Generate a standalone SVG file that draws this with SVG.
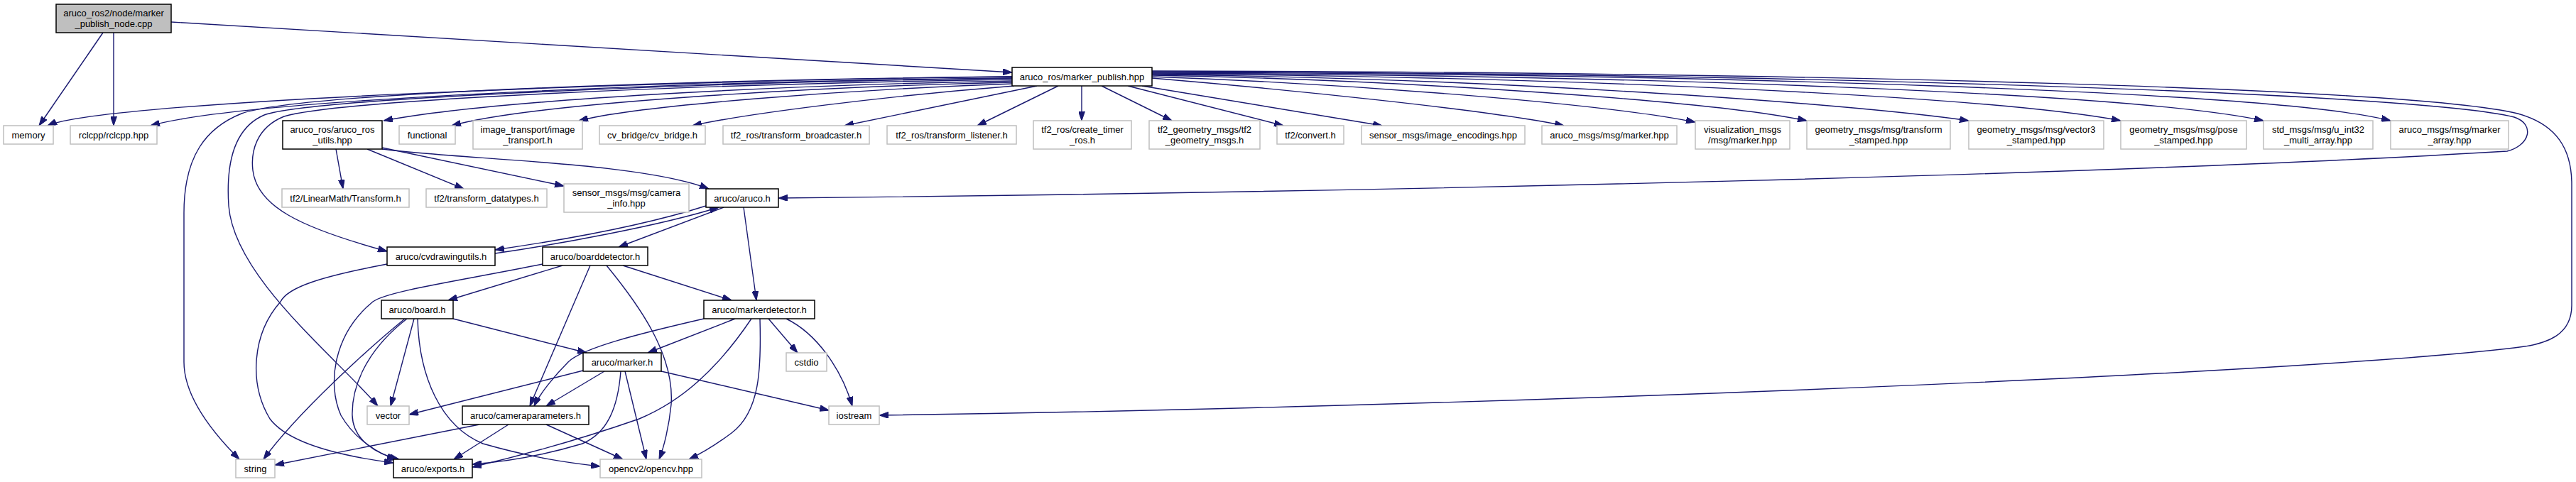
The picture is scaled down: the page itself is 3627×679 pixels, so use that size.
<svg xmlns="http://www.w3.org/2000/svg" width="3627" height="679" viewBox="0 0 3627 679">
<defs>
<style>
.bg{fill:#ffffff}
.node rect{fill:#ffffff;stroke-width:1.5}
.doc rect{stroke:#000000}
.ext rect{stroke:#bfbfbf}
.main rect{fill:#bfbfbf;stroke:#000000}
.node text{font-family:"Liberation Sans",Arial,sans-serif;font-size:13px;fill:#000000;text-anchor:middle}
#edges path{fill:none;stroke:#191970;stroke-width:1.4;marker-end:url(#ah)}
</style>
<marker id="ah" viewBox="0 0 13 9" refX="13" refY="4.5" markerWidth="13" markerHeight="9" orient="auto" markerUnits="userSpaceOnUse"><path d="M0,0L13,4.5L0,9z" fill="#191970" stroke="#191970" stroke-width="1"/></marker>
</defs>
<rect class="bg" x="0" y="0" width="3627" height="679"/>
<g id="edges">
<path d="M145,46 L55,177"/>
<path d="M160,46 L160,177"/>
<path d="M241,31 L1425,102"/>
<path d="M1425,108 C1000,112 150,140 67,177"/>
<path d="M1425,110 C1000,114 350,138 212,177"/>
<path d="M1425,114 C1100,120 700,140 540,170"/>
<path d="M1425,116 C1150,122 750,145 636,177"/>
<path d="M1425,118 C1200,126 900,148 815,170"/>
<path d="M1428,121 C1250,135 1050,160 975,177"/>
<path d="M1460,121 L1189,177"/>
<path d="M1490,121 L1376,177"/>
<path d="M1523,121 L1523,170"/>
<path d="M1551,121 L1650,170"/>
<path d="M1588,121 L1807,177"/>
<path d="M1608,121 L1946,177"/>
<path d="M1622,110 C1800,125 2100,155 2202,177"/>
<path d="M1622,108 C1900,118 2250,145 2387,172"/>
<path d="M1622,106 C1950,112 2400,140 2544,170"/>
<path d="M1622,105 C2100,110 2600,145 2772,170"/>
<path d="M1622,104 C2200,108 2800,135 2986,170"/>
<path d="M1622,103 C2300,106 3000,130 3187,170"/>
<path d="M1622,102 C2400,104 3200,128 3366,170"/>
<path d="M1622,101 C2500,103 3400,130 3540,165 C3570,175 3562,205 3530,213 C3000,245 2000,270 1096,279"/>
<path d="M1622,100 C2600,102 3400,125 3545,160 C3600,175 3621,210 3621,260 L3621,430 C3621,470 3590,485 3540,490 C3200,530 2000,575 1238,585"/>
<path d="M1425,108 C1000,112 420,130 340,160 C290,180 259,220 259,300 L259,510 C259,560 300,610 337,647"/>
<path d="M1425,110 C1000,116 440,138 372,162 C330,180 318,230 322,290 C330,390 470,500 532,572"/>
<path d="M1425,112 C1000,118 480,140 400,164 C360,180 353,215 356,240 C362,290 420,320 545,354"/>
<path d="M473,210 L483,266"/>
<path d="M517,210 L653,266"/>
<path d="M538,208 L794,262"/>
<path d="M538,210 C650,225 900,228 998,266"/>
<path d="M994,290 C900,320 780,340 697,352"/>
<path d="M697,357 C780,345 930,318 1012,292"/>
<path d="M1019,292 L871,348"/>
<path d="M1047,292 L1065,423"/>
<path d="M545,372 C450,390 405,405 395,425 C355,470 350,540 380,590 C410,630 500,645 554,652"/>
<path d="M764,372 C650,395 545,410 525,425 C470,470 460,540 480,585 C500,620 535,640 558,647"/>
<path d="M792,374 L631,423"/>
<path d="M831,374 L746,572"/>
<path d="M854,374 C900,430 950,500 945,570 C942,600 935,630 928,647"/>
<path d="M877,374 L1030,423"/>
<path d="M570,449 C520,490 420,580 371,647"/>
<path d="M573,449 C520,490 495,540 496,585 C497,620 530,640 562,647"/>
<path d="M583,449 L550,572"/>
<path d="M588,449 C590,530 620,600 680,625 C750,645 800,652 845,657"/>
<path d="M638,449 L826,497"/>
<path d="M991,449 C900,470 820,490 800,510 C780,530 760,555 752,572"/>
<path d="M1035,449 L912,497"/>
<path d="M1058,449 C1010,520 960,565 900,590 C800,625 720,645 665,658"/>
<path d="M1070,449 C1072,520 1070,580 1030,610 C1010,625 985,640 970,647"/>
<path d="M1082,449 L1123,497"/>
<path d="M1107,449 C1150,470 1185,520 1200,572"/>
<path d="M821,522 L576,584"/>
<path d="M851,523 L769,572"/>
<path d="M874,523 C870,575 855,610 820,625 C770,640 720,650 665,654"/>
<path d="M880,523 L910,647"/>
<path d="M931,523 L1167,578"/>
<path d="M675,598 L387,655"/>
<path d="M716,598 L639,647"/>
<path d="M769,598 L877,647"/>
</g>
<g id="n_main" class="node main"><rect x="79" y="6" width="162" height="40"/><text x="160" y="23">aruco_ros2/node/marker</text><text x="160" y="38">_publish_node.cpp</text></g>
<g id="n_marker_publish" class="node doc"><rect x="1425" y="95" width="197" height="26"/><text x="1523.5" y="112.5">aruco_ros/marker_publish.hpp</text></g>
<g id="n_memory" class="node ext"><rect x="5" y="177" width="70" height="26"/><text x="40" y="194.5">memory</text></g>
<g id="n_rclcpp" class="node ext"><rect x="99" y="177" width="122" height="26"/><text x="160" y="194.5">rclcpp/rclcpp.hpp</text></g>
<g id="n_ros_utils" class="node doc"><rect x="398" y="170" width="140" height="40"/><text x="468" y="187">aruco_ros/aruco_ros</text><text x="468" y="202">_utils.hpp</text></g>
<g id="n_functional" class="node ext"><rect x="562" y="177" width="79" height="26"/><text x="601.5" y="194.5">functional</text></g>
<g id="n_image_transport" class="node ext"><rect x="666" y="170" width="154" height="40"/><text x="743" y="187">image_transport/image</text><text x="743" y="202">_transport.h</text></g>
<g id="n_cv_bridge" class="node ext"><rect x="844" y="177" width="149" height="26"/><text x="918.5" y="194.5">cv_bridge/cv_bridge.h</text></g>
<g id="n_tf_broadcaster" class="node ext"><rect x="1018" y="177" width="206" height="26"/><text x="1121" y="194.5">tf2_ros/transform_broadcaster.h</text></g>
<g id="n_tf_listener" class="node ext"><rect x="1249" y="177" width="182" height="26"/><text x="1340" y="194.5">tf2_ros/transform_listener.h</text></g>
<g id="n_create_timer" class="node ext"><rect x="1455" y="170" width="138" height="40"/><text x="1524" y="187">tf2_ros/create_timer</text><text x="1524" y="202">_ros.h</text></g>
<g id="n_tf2_geometry" class="node ext"><rect x="1618" y="170" width="156" height="40"/><text x="1696" y="187">tf2_geometry_msgs/tf2</text><text x="1696" y="202">_geometry_msgs.h</text></g>
<g id="n_convert" class="node ext"><rect x="1798" y="177" width="94" height="26"/><text x="1845" y="194.5">tf2/convert.h</text></g>
<g id="n_image_encodings" class="node ext"><rect x="1917" y="177" width="230" height="26"/><text x="2032" y="194.5">sensor_msgs/image_encodings.hpp</text></g>
<g id="n_marker_msg" class="node ext"><rect x="2171" y="177" width="190" height="26"/><text x="2266" y="194.5">aruco_msgs/msg/marker.hpp</text></g>
<g id="n_vis_marker" class="node ext"><rect x="2387" y="170" width="133" height="40"/><text x="2453.5" y="187">visualization_msgs</text><text x="2453.5" y="202">/msg/marker.hpp</text></g>
<g id="n_transform_stamped" class="node ext"><rect x="2544" y="170" width="202" height="40"/><text x="2645" y="187">geometry_msgs/msg/transform</text><text x="2645" y="202">_stamped.hpp</text></g>
<g id="n_vector3_stamped" class="node ext"><rect x="2772" y="170" width="190" height="40"/><text x="2867" y="187">geometry_msgs/msg/vector3</text><text x="2867" y="202">_stamped.hpp</text></g>
<g id="n_pose_stamped" class="node ext"><rect x="2986" y="170" width="177" height="40"/><text x="3074.5" y="187">geometry_msgs/msg/pose</text><text x="3074.5" y="202">_stamped.hpp</text></g>
<g id="n_uint32" class="node ext"><rect x="3187" y="170" width="154" height="40"/><text x="3264" y="187">std_msgs/msg/u_int32</text><text x="3264" y="202">_multi_array.hpp</text></g>
<g id="n_marker_array" class="node ext"><rect x="3366" y="170" width="166" height="40"/><text x="3449" y="187">aruco_msgs/msg/marker</text><text x="3449" y="202">_array.hpp</text></g>
<g id="n_linearmath" class="node ext"><rect x="397" y="266" width="179" height="26"/><text x="486.5" y="283.5">tf2/LinearMath/Transform.h</text></g>
<g id="n_datatypes" class="node ext"><rect x="600" y="266" width="170" height="26"/><text x="685" y="283.5">tf2/transform_datatypes.h</text></g>
<g id="n_camera_info" class="node ext"><rect x="794" y="259" width="176" height="40"/><text x="882" y="276">sensor_msgs/msg/camera</text><text x="882" y="291">_info.hpp</text></g>
<g id="n_aruco_h" class="node doc"><rect x="994" y="266" width="102" height="26"/><text x="1045" y="283.5">aruco/aruco.h</text></g>
<g id="n_cvdrawingutils" class="node doc"><rect x="545" y="348" width="152" height="26"/><text x="621" y="365.5">aruco/cvdrawingutils.h</text></g>
<g id="n_boarddetector" class="node doc"><rect x="764" y="348" width="148" height="26"/><text x="838" y="365.5">aruco/boarddetector.h</text></g>
<g id="n_board" class="node doc"><rect x="537" y="423" width="101" height="26"/><text x="587.5" y="440.5">aruco/board.h</text></g>
<g id="n_markerdetector" class="node doc"><rect x="991" y="423" width="156" height="26"/><text x="1069" y="440.5">aruco/markerdetector.h</text></g>
<g id="n_marker" class="node doc"><rect x="821" y="497" width="110" height="26"/><text x="876" y="514.5">aruco/marker.h</text></g>
<g id="n_cstdio" class="node ext"><rect x="1107" y="497" width="57" height="26"/><text x="1135.5" y="514.5">cstdio</text></g>
<g id="n_vector" class="node ext"><rect x="517" y="572" width="59" height="26"/><text x="546.5" y="589.5">vector</text></g>
<g id="n_cameraparameters" class="node doc"><rect x="651" y="572" width="178" height="26"/><text x="740" y="589.5">aruco/cameraparameters.h</text></g>
<g id="n_iostream" class="node ext"><rect x="1167" y="572" width="71" height="26"/><text x="1202.5" y="589.5">iostream</text></g>
<g id="n_string" class="node ext"><rect x="332" y="647" width="55" height="26"/><text x="359.5" y="664.5">string</text></g>
<g id="n_exports" class="node doc"><rect x="554" y="647" width="111" height="26"/><text x="609.5" y="664.5">aruco/exports.h</text></g>
<g id="n_opencv" class="node ext"><rect x="845" y="647" width="143" height="26"/><text x="916.5" y="664.5">opencv2/opencv.hpp</text></g>
</svg>
